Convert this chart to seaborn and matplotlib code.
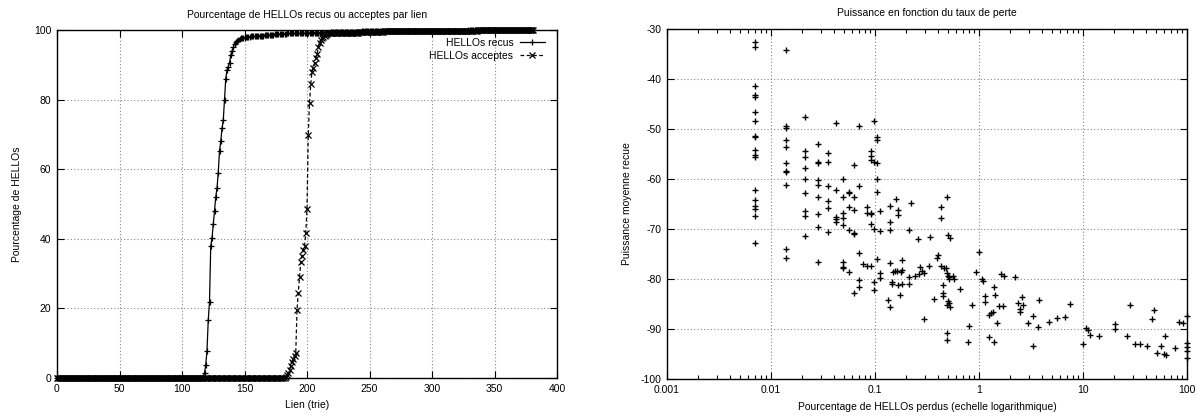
import numpy as np
import pandas as pd
import matplotlib
matplotlib.use('Agg')
import matplotlib.pyplot as plt
import matplotlib.ticker as mticker
import seaborn as sns

# ---------------- Donnees du graphique de gauche (liens tries) ----------------
nb_liens = 382

# HELLOs recus : liens a 0 %, montee, puis palier proche de 100 %
recus_zeros = 117
recus_montee = [0.4, 1.4, 3.8, 7.9, 16.7, 21.8, 38.0, 40.2, 44.2, 48.0,
                52.0, 54.6, 59.0, 65.2, 68.0, 71.7, 74.0, 80.0, 86.0, 88.5,
                89.5, 90.5, 92.8, 94.0, 95.0, 96.0, 96.5, 96.9, 97.2, 97.4,
                97.6]
recus_palier_niveaux = [97.8, 98.0, 98.2, 98.4, 98.6, 98.8, 99.0, 99.2, 99.4, 99.6, 99.8, 100.0]
recus_palier_nb = [3, 4, 5, 6, 8, 10, 15, 20, 25, 35, 50, 53]

# HELLOs acceptes
acceptes_zeros = 183
acceptes_montee = [0.3, 0.9, 1.5, 2.4, 3.5, 4.6, 5.4, 6.3, 7.1, 19.4,
                   24.4, 28.9, 33.3, 35.2, 36.8, 37.8, 41.6, 48.6, 69.8, 79.0,
                   84.5, 88.0, 89.0, 90.5, 91.9, 93.0, 95.0, 96.2, 97.0, 97.7,
                   98.1, 98.4, 98.6, 98.8]
acceptes_palier_niveaux = [99.0, 99.2, 99.4, 99.6, 99.8, 100.0]
acceptes_palier_nb = [10, 15, 20, 30, 45, 45]

# ---------------- Donnees du graphique de droite ----------------
# colonnes de taux de perte faibles (multiples de 0.007 %)
colonnes_perte = [0.007, 0.014, 0.021, 0.028, 0.035, 0.042, 0.049, 0.056,
                  0.063, 0.070, 0.077, 0.084, 0.091, 0.098, 0.105, 0.112]
colonnes_puissance = [
    [-32.6, -33.5, -41.3, -43.1, -43.6, -46.6, -48.4, -51.3, -51.5, -54.1,
     -55.1, -55.6, -62.2, -64.1, -65.3, -65.9, -67.3, -72.7],
    [-34.1, -49.3, -49.8, -52.1, -53.5, -56.7, -58.3, -58.6, -61.1, -74.0, -75.8],
    [-47.6, -54.3, -55.6, -57.7, -59.9, -62.7, -66.3, -67.3, -71.3],
    [-53.0, -56.5, -56.8, -60.1, -61.2, -63.6, -67.0, -69.5, -76.5],
    [-54.8, -56.6, -61.3, -64.3, -65.8, -70.5],
    [-48.7, -62.2, -67.6, -68.0, -68.5],
    [-60.0, -63.5, -66.7, -67.8, -69.1, -76.5, -77.5, -77.8],
    [-62.5, -62.7, -65.6, -70.2, -78.5],
    [-57.2, -63.5, -66.1, -70.8, -71.0, -82.7],
    [-49.3, -61.3, -74.8, -80.1, -81.6],
    [-77.0],
    [-65.5, -66.7, -77.3],
    [-54.4, -55.4, -56.1, -66.8, -66.9, -68.9, -77.3],
    [-48.3, -56.6, -70.0, -80.6, -82.2],
    [-51.6, -52.2, -56.8, -60.0, -62.6, -75.9],
    [-66.3, -70.3, -78.8, -79.8],
]

autres_perte = [0.133, 0.140, 0.140, 0.140, 0.140, 0.140, 0.147, 0.147, 0.150, 0.155,
                0.161, 0.160, 0.168, 0.168, 0.168, 0.175, 0.182, 0.182, 0.178, 0.182,
                0.210, 0.210, 0.210, 0.224, 0.240, 0.257, 0.263, 0.273, 0.283, 0.293,
                0.298, 0.333, 0.340, 0.372, 0.394, 0.407, 0.431, 0.431, 0.435, 0.455,
                0.455, 0.455, 0.460, 0.485, 0.490, 0.490, 0.490, 0.490, 0.490, 0.500,
                0.500, 0.510, 0.500, 0.520, 0.528, 0.520, 0.530, 0.563, 0.580, 0.660,
                0.790, 0.810, 0.855, 0.940, 1.01, 1.07, 1.09, 1.13, 1.13, 1.24,
                1.30, 1.36, 1.24, 1.40, 1.49, 1.40, 1.43, 1.57, 1.72, 1.63,
                1.75, 2.23, 2.35, 2.46, 2.50, 2.59, 2.65, 2.94, 3.31, 3.31,
                3.75, 3.66, 4.68, 5.62, 6.76, 7.55, 10.1, 10.8, 11.2, 11.6,
                14.1, 20.5, 20.5, 26.5, 28.1, 31.8, 35.0, 41.2, 46.0, 47.7,
                51.4, 56.2, 60.5, 63.2, 61.8, 77.2, 83.1, 91.5, 100, 100,
                100, 100, 100]
autres_puissance = [-84.1, -65.4, -68.5, -70.1, -76.8, -85.5, -80.6, -81.0, -78.6, -78.4,
                    -78.3, -63.9, -66.1, -67.2, -81.1, -83.1, -76.1, -78.1, -78.5, -80.9,
                    -70.1, -79.5, -80.9, -64.8, -79.3, -72.0, -78.9, -77.5, -78.4, -78.8,
                    -88.0, -77.3, -71.5, -83.9, -75.8, -75.1, -65.5, -67.7, -77.3, -81.1,
                    -82.8, -83.3, -77.8, -77.7, -63.5, -78.7, -85.1, -90.8, -92.1, -71.1,
                    -79.3, -80.0, -84.3, -79.5, -71.8, -84.8, -85.5, -79.3, -80.0, -82.0,
                    -92.6, -89.3, -85.1, -78.5, -74.6, -80.0, -80.3, -83.3, -84.6, -87.1,
                    -86.8, -86.5, -91.5, -92.5, -88.7, -81.5, -83.1, -85.3, -85.3, -78.9,
                    -79.3, -79.5, -84.8, -86.0, -86.5, -83.5, -85.1, -88.8, -93.3, -87.3,
                    -84.1, -89.6, -88.5, -87.8, -87.6, -85.0, -92.9, -89.8, -90.1, -91.1,
                    -91.3, -88.9, -90.0, -91.3, -85.1, -93.0, -93.0, -93.3, -87.9, -86.1,
                    -94.7, -93.3, -94.9, -95.1, -91.3, -93.7, -88.5, -88.8, -87.3, -92.8,
                    -93.6, -94.3, -95.8]

# ---------------- Construction des tables ----------------
recus = np.concatenate([np.zeros(recus_zeros), recus_montee,
                        np.repeat(recus_palier_niveaux, recus_palier_nb)])
acceptes = np.concatenate([np.zeros(acceptes_zeros), acceptes_montee,
                           np.repeat(acceptes_palier_niveaux, acceptes_palier_nb)])
df_liens = pd.DataFrame({'Lien': np.arange(nb_liens), 'recus': recus, 'acceptes': acceptes})

perte = []
puissance = []
for p, valeurs in zip(colonnes_perte, colonnes_puissance):
    perte += [p] * len(valeurs)
    puissance += valeurs
perte += autres_perte
puissance += autres_puissance
df_points = pd.DataFrame({'perte': perte, 'puissance': puissance})

# ---------------- Figure ----------------
plt.rcParams['font.family'] = ['Liberation Sans', 'DejaVu Sans']
plt.rcParams['axes.unicode_minus'] = False
taille = 7.5

fig = plt.figure(figsize=(12, 4.16), dpi=100)
ax1 = fig.add_axes([57 / 1200, 1 - 378 / 416, 500 / 1200, 348 / 416])
ax2 = fig.add_axes([667 / 1200, 1 - 379 / 416, 520 / 1200, 350 / 416])

grille = dict(linestyle=(0, (1, 2)), color='#888888', linewidth=0.8)

# Graphique de gauche
sns.lineplot(data=df_liens, x='Lien', y='recus', ax=ax1, color='black', linewidth=0.9,
             marker='+', markersize=5, markeredgewidth=0.9, markeredgecolor='black',
             label='HELLOs recus', clip_on=False, zorder=3)
sns.lineplot(data=df_liens, x='Lien', y='acceptes', ax=ax1, color='black', linewidth=0.9,
             linestyle=(0, (3, 2)), marker='x', markersize=4, markeredgewidth=0.9,
             markeredgecolor='black', label='HELLOs acceptes', clip_on=False, zorder=3)
ax1.set_xlim(0, 400)
ax1.set_ylim(0, 100)
ax1.set_xticks(range(0, 401, 50))
ax1.set_yticks(range(0, 101, 20))
ax1.grid(True, **grille)
ax1.set_axisbelow(True)
ax1.set_title('Pourcentage de HELLOs recus ou acceptes par lien', fontsize=taille, pad=9)
ax1.set_xlabel('Lien (trie)', fontsize=taille, labelpad=5)
ax1.set_ylabel('Pourcentage de HELLOs', fontsize=taille, labelpad=9)

# markerfirst=False : le texte est aligne a droite, juste avant l'echantillon de ligne
ax1.legend(loc='upper right', bbox_to_anchor=(0.975, 0.978), frameon=False,
           markerfirst=False, fontsize=taille, handlelength=2.4,
           handletextpad=0.6, labelspacing=0.3, borderaxespad=0, borderpad=0)

# Graphique de droite
sns.scatterplot(data=df_points, x='perte', y='puissance', ax=ax2, marker='+',
                color='black', s=18, linewidth=1.0, clip_on=False, zorder=3, legend=False)
ax2.set_xscale('log')
ax2.set_xlim(0.001, 100)
ax2.set_ylim(-100, -30)
ax2.set_yticks(range(-100, -29, 10))
ax2.xaxis.set_major_locator(mticker.LogLocator(base=10, numticks=10))
ax2.xaxis.set_minor_locator(mticker.LogLocator(base=10, subs=np.arange(2, 10), numticks=20))
ax2.xaxis.set_major_formatter(mticker.FuncFormatter(lambda v, pos: f'{v:g}'))
ax2.xaxis.set_minor_formatter(mticker.NullFormatter())
ax2.grid(True, which='major', **grille)
ax2.set_axisbelow(True)
ax2.set_title('Puissance en fonction du taux de perte', fontsize=taille, pad=9)
ax2.set_xlabel('Pourcentage de HELLOs perdus (echelle logarithmique)', fontsize=taille, labelpad=5)
ax2.set_ylabel('Puissance moyenne recue', fontsize=taille, labelpad=6)

for ax in (ax1, ax2):
    ax.tick_params(which='major', direction='in', top=True, right=True, length=5,
                   width=0.8, labelsize=taille, pad=4)
    ax.tick_params(which='minor', direction='in', top=True, right=True, length=3, width=0.8)
    for s in ax.spines.values():
        s.set_linewidth(1.0)
        s.set_color('black')

fig.savefig('out.png', dpi=100)
